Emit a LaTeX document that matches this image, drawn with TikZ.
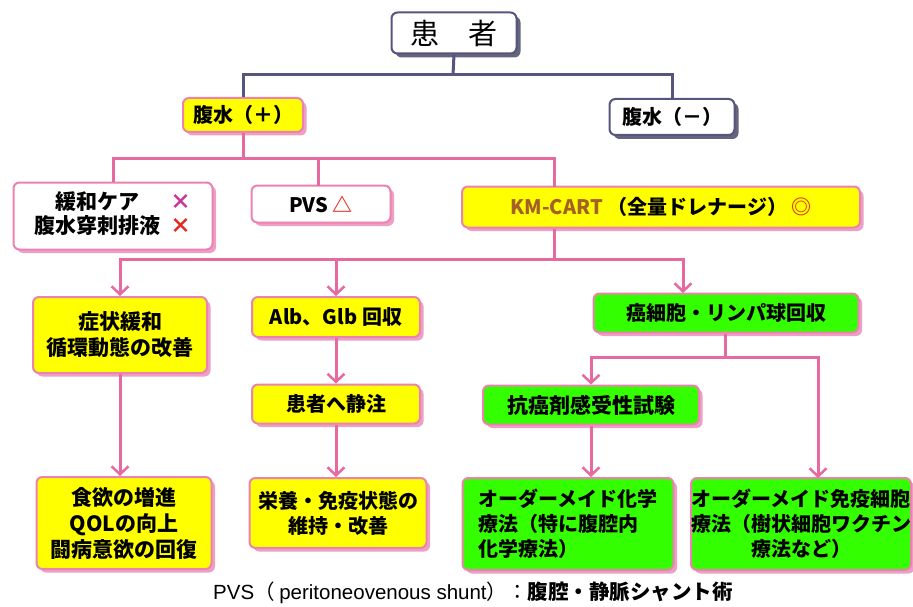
\documentclass[tikz,border=0pt]{standalone}
\usepackage{fontspec}
\setmainfont{Noto Sans CJK JP}
\newfontfamily\lib{Liberation Sans}
\usetikzlibrary{arrows.meta,shadows}
\definecolor{pinkline}{RGB}{230,105,160}
\definecolor{pinkbd}{RGB}{236,130,175}
\definecolor{pinksh}{RGB}{236,160,198}
\definecolor{slate}{RGB}{85,85,125}
\definecolor{slatesh}{RGB}{100,100,125}
\definecolor{ylw}{RGB}{255,255,0}
\definecolor{grn}{RGB}{51,255,0}
\definecolor{kmc}{RGB}{165,95,40}
\definecolor{xpurple}{RGB}{205,50,150}
\definecolor{xred}{RGB}{228,40,30}
\begin{document}
\begin{tikzpicture}[x=1pt,y=-1pt,
  basebox/.style={line width=2pt, rounded corners=6pt, inner sep=2pt,
    font=\bfseries\fontsize{20}{25}\selectfont, text=black},
  box/.style={basebox, draw=pinkbd,
    drop shadow={shadow xshift=3.5pt, shadow yshift=-3.5pt, fill=pinksh, opacity=1}},
  ybox/.style={box, fill=ylw},
  gbox/.style={box, fill=grn},
  wbox/.style={box, fill=white},
  sbox/.style={basebox, draw=slate, fill=white,
    drop shadow={shadow xshift=4pt, shadow yshift=-4pt, fill=slatesh, opacity=1}},
  big/.style={font=\bfseries\fontsize{21}{26}\selectfont},
  sl/.style={draw=slate, line width=3pt},
  pl/.style={draw=pinkline, line width=3pt},
  pa/.style={pl, -{Straight Barb[length=8pt,width=17pt,line width=2.5pt]}}
]
\useasboundingbox (0,0) rectangle (913,607);
\fill[white] (0,0) rectangle (913,607);

% nodes
\node[sbox, minimum width=125, minimum height=41, font=\fontsize{29}{32}\selectfont] (pt) at (454,33) {患　者};
\node[ybox, minimum width=120, minimum height=34] (pos) at (243,115) {腹水（＋）};
\node[sbox, minimum width=125, minimum height=36] (neg) at (672,117) {腹水（－）};

\node[wbox, big, minimum width=199, minimum height=67] (kanwa) at (113,216)
  {\begin{tabular}{@{}c@{\hspace{10pt}}c@{}}緩和ケア & {\color{xpurple}×}\\[-2pt] 腹水穿刺排液 & {\color{xred}×}\end{tabular}};
\node[wbox, minimum width=139, minimum height=37] (pvs) at (321,204) {PVS {\color{xred}△}};
\node[ybox, minimum width=398, minimum height=41] (km) at (661,207)
  {{\color{kmc}KM-CART} （全量ドレナージ） {\color{xred}◎}};

\node[ybox, big, minimum width=174, minimum height=76, align=center] (sym) at (120,335) {症状緩和\\循環動態の改善};
\node[ybox, minimum width=168, minimum height=40] (alb) at (336,317) {Alb、Glb 回収};
\node[gbox, minimum width=265, minimum height=39] (gan) at (726,313) {癌細胞・リンパ球回収};

\node[ybox, minimum width=168, minimum height=39] (jou) at (336,404) {患者へ静注};
\node[gbox, big, minimum width=216, minimum height=39] (kou) at (591,405) {抗癌剤感受性試験};

\node[ybox, big, minimum width=175, minimum height=92, align=center] (shoku) at (124,523) {食欲の増進\\QOLの向上\\闘病意欲の回復};
\node[ybox, minimum width=177, minimum height=70, align=center] (eiyou) at (338,513) {栄養・免疫状態の\\維持・改善};
\node[gbox, minimum width=211, minimum height=92, align=left] (kagaku) at (568,524) {オーダーメイド化学\\療法（特に腹腔内\\化学療法）};
\node[gbox, minimum width=215, minimum height=92, align=center, inner sep=0pt] (men) at (801,524) {オーダーメイド免疫細胞\\療法（樹状細胞ワクチン\\療法など）};

\node[font=\fontsize{20.5}{22}\selectfont, anchor=west, inner sep=0pt] (note) at (213,593)
  {{\lib PVS}（ {\lib peritoneovenous shunt}）：\textbf{腹腔・静脈シャント術}};

% connectors
\coordinate (j1) at (453,75);
\draw[sl] (pt.south) -- (j1);
\draw[sl] (pos.north) |- (j1) -| (neg.north);

\coordinate (j2) at (243,159);
\coordinate (kmin) at (554,187);
\coordinate (pvsin) at (318,186);
\draw[pl] (pos.south) -- (j2);
\draw[pl] (kanwa.north) |- (j2) -| (kmin);
\draw[pl] (j2) -| (pvsin);

\coordinate (j3) at (554,259);
\coordinate (ganin) at (683,293);
\draw[pl] (km.south -| j3) -- (j3);
\draw[pa] (j3) -| (sym.north);
\draw[pa] (j3) -| (alb.north);
\draw[pa] (j3) -| (ganin);

\draw[pa] (alb.south) -- (jou.north);

\coordinate (j4) at (725,357);
\coordinate (menin) at (818,478);
\draw[pl] (gan.south -| j4) -- (j4);
\draw[pa] (j4) -| (kou.north);
\draw[pa] (j4) -| (menin);

\draw[pa] (sym.south) -- (sym.south |- shoku.north);
\draw[pa] (jou.south) -- (jou.south |- eiyou.north);
\draw[pa] (kou.south) -- (kou.south |- kagaku.north);
\end{tikzpicture}
\end{document}
